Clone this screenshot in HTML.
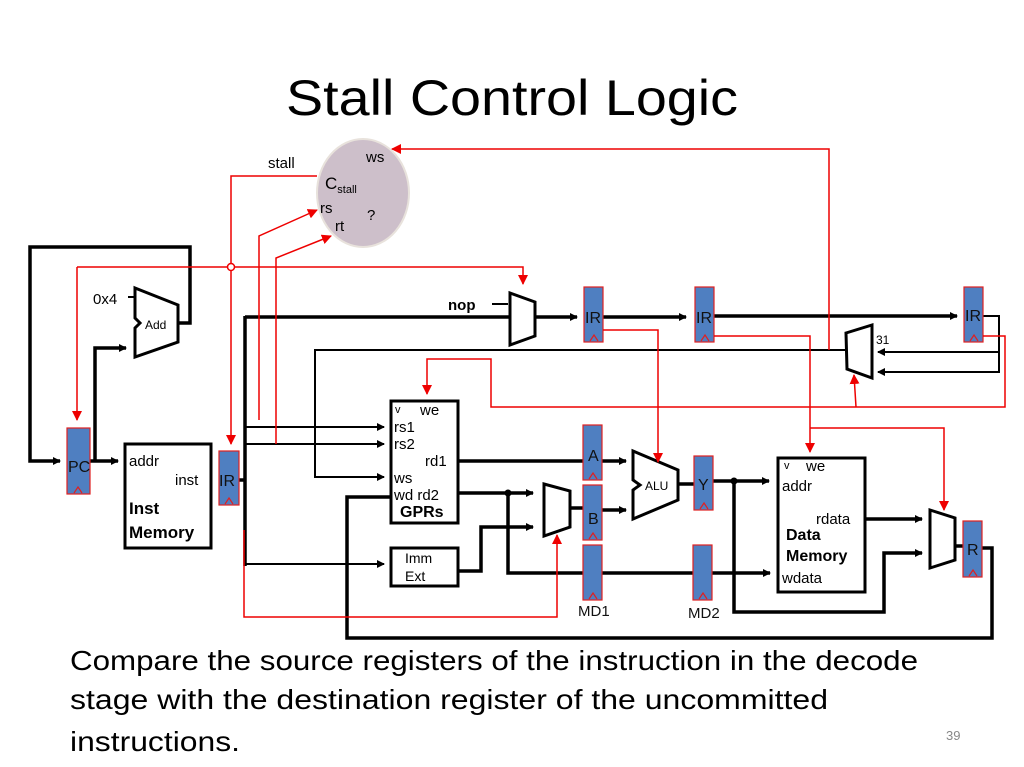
<!DOCTYPE html>
<html><head><meta charset="utf-8"><style>
html,body{margin:0;padding:0;background:#fff;}
svg{display:block;}
text{font-family:"Liberation Sans",sans-serif;}
</style></head><body>
<svg width="1024" height="767" viewBox="0 0 1024 767" xmlns="http://www.w3.org/2000/svg">
<defs>
<marker id="ab" markerWidth="8" markerHeight="8" refX="7" refY="4" orient="auto" markerUnits="userSpaceOnUse"><path d="M0,0 L8,4 L0,8 z" fill="#000"/></marker>
<marker id="ar" markerWidth="10" markerHeight="10" refX="9" refY="5" orient="auto" markerUnits="userSpaceOnUse"><path d="M0,0 L10,5 L0,10 z" fill="#e00"/></marker>
</defs>
<rect width="1024" height="767" fill="#fff"/>
<text x="512" y="115" font-size="50" text-anchor="middle" textLength="452" lengthAdjust="spacingAndGlyphs">Stall Control Logic</text>

<!-- ellipse -->
<ellipse cx="363" cy="193" rx="46" ry="54" fill="#cdbfca" stroke="#e8e2dc" stroke-width="2"/>
<text x="366" y="162" font-size="15">ws</text>
<text x="325" y="189" font-size="17">C<tspan font-size="11" dy="4">stall</tspan></text>
<text x="320" y="213" font-size="15">rs</text>
<text x="335" y="231" font-size="15">rt</text>
<text x="367" y="220" font-size="15">?</text>
<text x="268" y="168" font-size="15">stall</text>

<g fill="none" stroke="#000" stroke-width="3.5">
<!-- PC loop -->
<polyline points="178,323 190,323 190,247 30,247 30,461 60,461" marker-end="url(#ab)" stroke-width="3.5"/>
<polyline points="90,461 118,461" marker-end="url(#ab)"/>
<polyline points="95,461 95,348 126,348" marker-end="url(#ab)"/>
<!-- IR fanout -->
<polyline points="239,480 245,480"/>
<line x1="245" y1="316" x2="245" y2="566"/>
<polyline points="245,317 510,317"/>
<!-- rd1 to A -->
<line x1="458" y1="461" x2="584" y2="461"/>
<polyline points="458,493 533,493" marker-end="url(#ab)"/>
<polyline points="508,493 508,573 770,573" marker-end="url(#ab)"/>
<polyline points="390,497 347,497 347,638 992,638 992,548 982,548"/>
<polyline points="458,571 481,571 481,527 533,527" marker-end="url(#ab)"/>
<line x1="570" y1="508" x2="584" y2="508"/>
<polyline points="602,461 626,461" marker-end="url(#ab)"/>
<polyline points="602,510 626,510" marker-end="url(#ab)"/>
<line x1="678" y1="484" x2="696" y2="484"/>
<polyline points="713,481 769,481" marker-end="url(#ab)"/>
<polyline points="734,481 734,612 884,612 884,553 922,553" marker-end="url(#ab)"/>
<polyline points="865,519 922,519" marker-end="url(#ab)"/>
<line x1="954" y1="546" x2="964" y2="546"/>
<polyline points="535,317 577,317" marker-end="url(#ab)"/>
<polyline points="603,317 686,317" marker-end="url(#ab)"/>
<polyline points="714,316 957,316" marker-end="url(#ab)"/>
</g>
<g fill="none" stroke="#000" stroke-width="2">
<polyline points="245,427 384,427" marker-end="url(#ab)"/>
<polyline points="245,444 384,444" marker-end="url(#ab)"/>
<polyline points="245,564 384,564" marker-end="url(#ab)"/>
<polyline points="846,350 315,350 315,477 384,477" marker-end="url(#ab)"/>
<polyline points="983,316 999,316 999,372 878,372" marker-end="url(#ab)"/>
<polyline points="999,352 878,352" marker-end="url(#ab)"/>
<line x1="128" y1="297" x2="135" y2="297"/>
<line x1="492" y1="304" x2="508" y2="304"/>
</g>
<circle cx="508" cy="493" r="3.5" fill="#000"/>
<circle cx="734" cy="481" r="3.5" fill="#000"/>

<!-- Add -->
<polygon points="135,288 178,305 178,342 135,357 135,328 140,323 135,318" fill="#fff" stroke="#000" stroke-width="3"/>
<text x="145" y="329" font-size="12">Add</text>
<text x="93" y="304" font-size="15">0x4</text>

<!-- Inst memory -->
<rect x="125" y="444" width="86" height="104" fill="#fff" stroke="#000" stroke-width="3"/>
<text x="129" y="466" font-size="15">addr</text>
<text x="175" y="485" font-size="15">inst</text>
<text x="129" y="514" font-size="17" font-weight="bold">Inst</text>
<text x="129" y="538" font-size="17" font-weight="bold">Memory</text>

<!-- GPRs -->
<rect x="391" y="401" width="67" height="122" fill="#fff" stroke="#000" stroke-width="3"/>
<text x="395" y="413" font-size="11">v</text>
<text x="420" y="415" font-size="15">we</text>
<text x="394" y="432" font-size="15">rs1</text>
<text x="394" y="449" font-size="15">rs2</text>
<text x="425" y="466" font-size="15">rd1</text>
<text x="394" y="483" font-size="15">ws</text>
<text x="394" y="500" font-size="15">wd rd2</text>
<text x="400" y="517" font-size="16" font-weight="bold">GPRs</text>

<!-- Imm Ext -->
<rect x="391" y="548" width="67" height="38" fill="#fff" stroke="#000" stroke-width="3"/>
<text x="405" y="563" font-size="14">Imm</text>
<text x="405" y="581" font-size="14">Ext</text>

<!-- muxes -->
<polygon points="510,293 535,302 535,336 510,345" fill="#fff" stroke="#000" stroke-width="3"/>
<text x="448" y="310" font-size="15" font-weight="bold">nop</text>
<polygon points="544,484 570,491 570,527 544,536" fill="#fff" stroke="#000" stroke-width="3"/>
<polygon points="846,333 872,325 872,378 847,369" fill="#fff" stroke="#000" stroke-width="3"/>
<text x="876" y="344" font-size="12">31</text>
<polygon points="930,510 955,518 955,560 930,568" fill="#fff" stroke="#000" stroke-width="3"/>

<!-- ALU -->
<polygon points="633,451 678,470 678,500 633,519 633,490 640,485 633,480" fill="#fff" stroke="#000" stroke-width="3"/>
<text x="645" y="490" font-size="12">ALU</text>

<!-- Data memory -->
<rect x="778" y="458" width="87" height="134" fill="#fff" stroke="#000" stroke-width="3"/>
<text x="784" y="469" font-size="11">v</text>
<text x="806" y="471" font-size="15">we</text>
<text x="782" y="491" font-size="15">addr</text>
<text x="816" y="524" font-size="15">rdata</text>
<text x="786" y="540" font-size="16" font-weight="bold">Data</text>
<text x="786" y="561" font-size="16" font-weight="bold">Memory</text>
<text x="782" y="583" font-size="15">wdata</text>

<!-- registers -->
<g stroke="#e02020" stroke-width="1.2">
<rect x="67" y="428" width="23" height="66" fill="#4f7fc1"/>
<rect x="219" y="451" width="20" height="54" fill="#4f7fc1"/>
<rect x="584" y="287" width="19" height="55" fill="#4f7fc1"/>
<rect x="695" y="287" width="19" height="55" fill="#4f7fc1"/>
<rect x="964" y="287" width="19" height="55" fill="#4f7fc1"/>
<rect x="583" y="425" width="19" height="55" fill="#4f7fc1"/>
<rect x="583" y="485" width="19" height="55" fill="#4f7fc1"/>
<rect x="583" y="545" width="19" height="55" fill="#4f7fc1"/>
<rect x="694" y="456" width="19" height="54" fill="#4f7fc1"/>
<rect x="693" y="545" width="19" height="55" fill="#4f7fc1"/>
<rect x="963" y="521" width="19" height="56" fill="#4f7fc1"/>
</g>
<g fill="none" stroke="#e02020" stroke-width="1.2">
<polyline points="74,493 78,487 82,493"/>
<polyline points="225,504 229,498 233,504"/>
<polyline points="590,341 594,335 598,341"/>
<polyline points="701,341 705,335 709,341"/>
<polyline points="970,341 974,335 978,341"/>
<polyline points="589,479 593,473 597,479"/>
<polyline points="589,539 593,533 597,539"/>
<polyline points="589,599 593,593 597,599"/>
<polyline points="700,509 704,503 708,509"/>
<polyline points="699,599 703,593 707,599"/>
<polyline points="969,576 973,570 977,576"/>
</g>
<g font-size="16" fill="#111">
<text x="68" y="472">PC</text>
<text x="219" y="486">IR</text>
<text x="585" y="323">IR</text>
<text x="696" y="323">IR</text>
<text x="965" y="321">IR</text>
<text x="588" y="461">A</text>
<text x="588" y="524">B</text>
<text x="698" y="490">Y</text>
<text x="967" y="555">R</text>
<text x="578" y="616" font-size="15">MD1</text>
<text x="688" y="618" font-size="15">MD2</text>
</g>

<!-- red control lines -->
<g fill="none" stroke="#e00" stroke-width="1.5">
<polyline points="317,176 231,176 231,444" marker-end="url(#ar)"/>
<polyline points="77,267 523,267 523,284" marker-end="url(#ar)"/>
<polyline points="77,267 77,420" marker-end="url(#ar)"/>
<polyline points="259,420 259,236 317,210" marker-end="url(#ar)"/>
<polyline points="276,444 276,258 331,236" marker-end="url(#ar)"/>
<polyline points="829,350 829,149 392,149" marker-end="url(#ar)"/>
<polyline points="603,330 658,330 658,462" marker-end="url(#ar)"/>
<polyline points="714,336 810,336 810,452" marker-end="url(#ar)"/>
<polyline points="810,428 944,428 944,510" marker-end="url(#ar)"/>
<polyline points="983,336 1005,336 1005,407 491,407 491,359 427,359 427,394" marker-end="url(#ar)"/>
<polyline points="856,407 854,375" marker-end="url(#ar)"/>
<polyline points="244,530 244,617 557,617 557,535" marker-end="url(#ar)"/>
</g>
<circle cx="231" cy="267" r="3.5" fill="#fff" stroke="#e00" stroke-width="1.5"/>

<!-- caption -->
<g font-size="28" fill="#000">
<text x="70" y="670" textLength="848" lengthAdjust="spacingAndGlyphs">Compare the source registers of the instruction in the decode</text>
<text x="70" y="709" textLength="758" lengthAdjust="spacingAndGlyphs">stage with the destination register of the uncommitted</text>
<text x="70" y="751" textLength="170" lengthAdjust="spacingAndGlyphs">instructions.</text>
</g>
<text x="946" y="740" font-size="13" fill="#888">39</text>
</svg>
</body></html>
